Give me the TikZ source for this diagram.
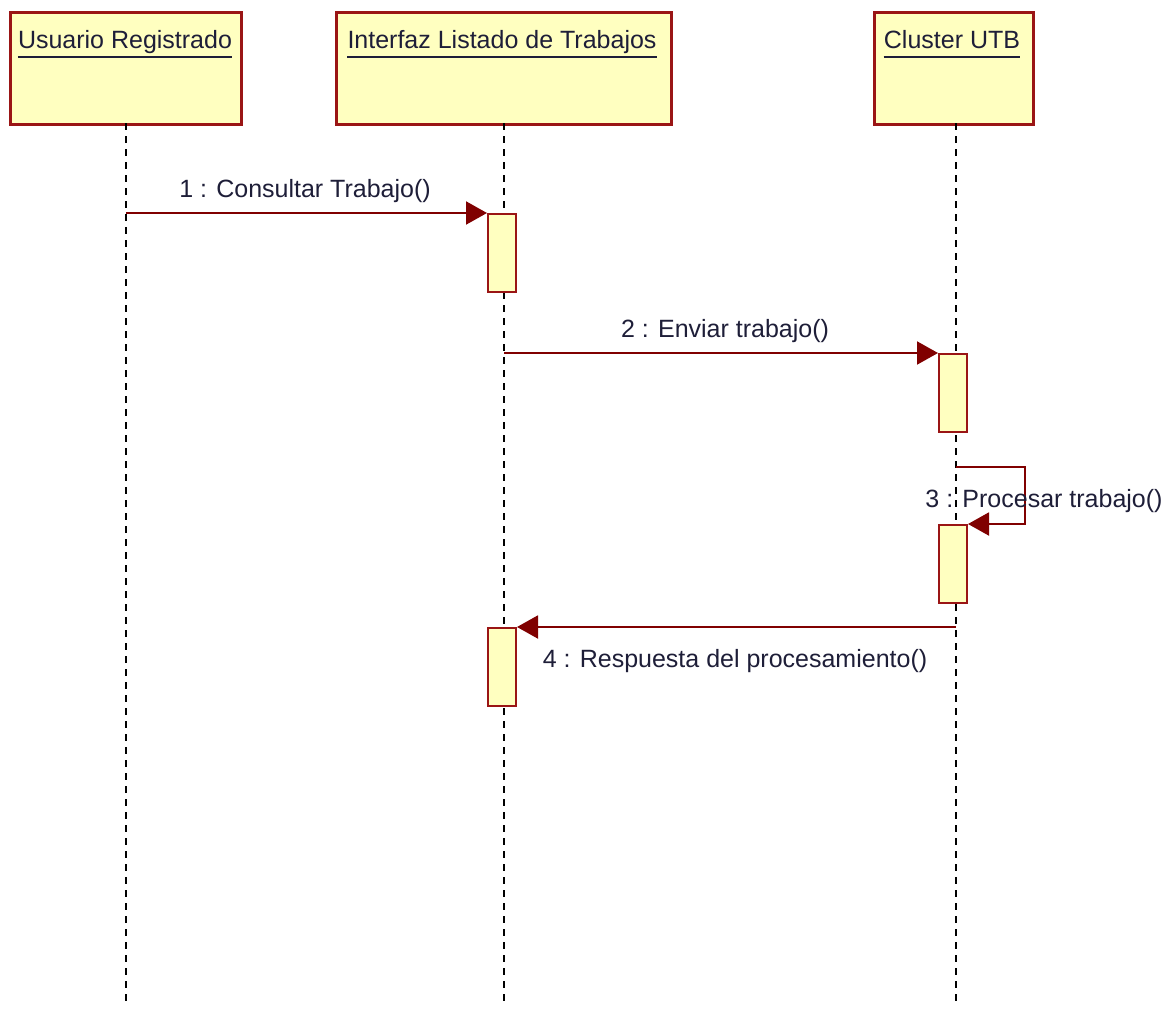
\documentclass[tikz,border=0pt]{standalone}
\usepackage{fontspec}
\setmainfont{Liberation Sans}
\usetikzlibrary{arrows.meta}

\definecolor{objfill}{HTML}{FFFFC0}
\definecolor{objline}{HTML}{9A1515}
\definecolor{msgline}{HTML}{800000}
\definecolor{umltext}{HTML}{1E1E38}

\begin{document}
\begin{tikzpicture}[x=1pt,y=-1pt,
  lbl/.style={font=\fontsize{25}{29}\selectfont, text=umltext, inner sep=0pt, anchor=base},
  underl/.style={umltext, line width=2.5pt},
  objbox/.style={draw=objline, fill=objfill, line width=2.5pt, anchor=north west, inner sep=0pt},
  actbox/.style={draw=objline, fill=objfill, line width=2pt, anchor=north, minimum width=28, minimum height=78, inner sep=0pt},
  lifeline/.style={black, line width=1.5pt, dash pattern=on 7pt off 6pt},
  msg/.style={msgline, line width=2pt, -{Triangle[length=21pt,width=23pt]}}]

  % canvas
  \useasboundingbox (0,0) rectangle (1175,1009);

  % object boxes
  \node[objbox, minimum width=231, minimum height=112] (usr) at (9,11) {};
  \node[objbox, minimum width=335, minimum height=112] (ifz) at (335,11) {};
  \node[objbox, minimum width=159, minimum height=112] (cls) at (873,11) {};

  \node[lbl] (usrT) at (125,48) {Usuario Registrado};
  \node[lbl] (ifzT) at (502,48) {Interfaz Listado de Trabajos};
  \node[lbl] (clsT) at (952,48) {Cluster UTB};

  % object names are underlined
  \foreach \t in {usrT,ifzT,clsT}
    \draw[underl] ([yshift=-9pt]\t.base west) -- ([yshift=-9pt]\t.base east);

  % lifeline ends
  \coordinate (usrEnd) at (126,1005);
  \coordinate (ifzEnd) at (504,1005);
  \coordinate (clsEnd) at (956,1005);

  \draw[lifeline] (126,123) -- (usrEnd);
  \draw[lifeline] (504,123) -- (ifzEnd);
  \draw[lifeline] (956,123) -- (clsEnd);

  % activations
  \node[actbox] (a1) at (502,213) {};
  \node[actbox] (a2) at (953,353) {};
  \node[actbox] (a3) at (953,524) {};
  \node[actbox] (a4) at (502,627) {};

  % message endpoints on lifelines
  \coordinate (m1s) at (126,213);
  \coordinate (m2s) at (504,353);
  \coordinate (m3s) at (956,467);
  \coordinate (m3a) at (1025,467);
  \coordinate (m3b) at (1025,524);
  \coordinate (m4s) at (956,627);

  % messages
  \draw[msg] (m1s) -- (a1.north west);
  \draw[msg] (m2s) -- (a2.north west);
  \draw[msg] (m3s) -- (m3a) -- (m3b) -- (a3.north east);
  \draw[msg] (m4s) -- (a4.north east);

  \node[lbl] (l1) at (305,197) {1 : Consultar Trabajo()};
  \node[lbl] (l2) at (725,337) {2 : Enviar trabajo()};
  \node[lbl] (l3) at (1044,507) {3 : Procesar trabajo()};
  \node[lbl] (l4) at (735,667) {4 : Respuesta del procesamiento()};
\end{tikzpicture}
\end{document}
